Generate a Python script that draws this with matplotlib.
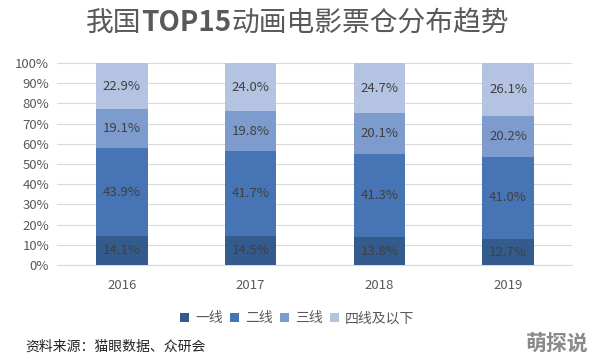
import matplotlib
matplotlib.use("Agg")
import matplotlib.pyplot as plt
import numpy as np

plt.rcParams['font.family'] = ['Noto Sans CJK SC', 'DejaVu Sans']

years = ['2016', '2017', '2018', '2019']
series_names = ['一线', '二线', '三线', '四线及以下']
tier1 = [14.1, 14.5, 13.8, 12.7]
tier2 = [43.9, 41.7, 41.3, 41.0]
tier3 = [19.1, 19.8, 20.1, 20.2]
tier4 = [22.9, 24.0, 24.7, 26.1]
yticks = [0, 10, 20, 30, 40, 50, 60, 70, 80, 90, 100]

colors = ['#335b8e', '#4674b5', '#7e9bcd', '#b4c3e1']

fig = plt.figure(figsize=(5.94, 3.59), dpi=100)
ax = fig.add_axes([0.0968, 0.262, 0.867, 0.5625])

x = np.arange(len(years))
bottom = np.zeros(len(years))
for vals, name, c in zip([tier1, tier2, tier3, tier4], series_names, colors):
    v = np.array(vals)
    ax.bar(x, v, 0.4, bottom=bottom, color=c, label=name, zorder=3)
    for xi, b, h in zip(x, bottom, v):
        ax.text(xi, b + h / 2, f'{h:.1f}%', ha='center', va='center',
                fontsize=9.5, color='#404040', zorder=4)
    bottom = bottom + v

ax.set_xlim(-0.5, len(years) - 0.5)
ax.set_ylim(0, 100)
ax.set_yticks(yticks)
ax.set_yticklabels([f'{t}%' for t in yticks])
ax.set_xticks(x)
ax.set_xticklabels(years)
ax.grid(axis='y', color='#d9d9d9', linewidth=0.8, zorder=0)
for s in ['top', 'right', 'left']:
    ax.spines[s].set_visible(False)
ax.spines['bottom'].set_color('#d9d9d9')
ax.tick_params(axis='both', length=0, labelsize=9.5, colors='#595959', pad=6)
ax.tick_params(axis='x', pad=10)

# Title with bold "TOP15"
parts = [('我国', 'normal'), ('TOP15', 'bold'), ('动画电影票仓分布趋势', 'normal')]
renderer = fig.canvas.get_renderer()
texts = []
widths = []
for s, w in parts:
    t = fig.text(0, 0.935, s, ha='left', va='center', fontsize=20,
                 color='#595959', fontweight=w)
    bb = t.get_window_extent(renderer=renderer)
    texts.append(t)
    widths.append(bb.width)
total = sum(widths)
figw = fig.bbox.width
xpos = (figw - total) / 2
for t, w in zip(texts, widths):
    t.set_x(xpos / figw)
    xpos += w

leg = fig.legend(loc='center', bbox_to_anchor=(0.5, 0.113), ncol=4, frameon=False,
                 fontsize=10, handlelength=0.7, handleheight=0.7, handletextpad=0.4,
                 columnspacing=0.5)
for t in leg.get_texts():
    t.set_color('#595959')

fig.text(0.042, 0.033, '资料来源：猫眼数据、众研会', ha='left', va='center',
         fontsize=10, color='#222222')
fig.text(0.99, 0.04, '萌探说', ha='right', va='center', fontsize=15,
         color='#8a8a8a', fontweight='bold')

fig.savefig('out.png', dpi=100)
